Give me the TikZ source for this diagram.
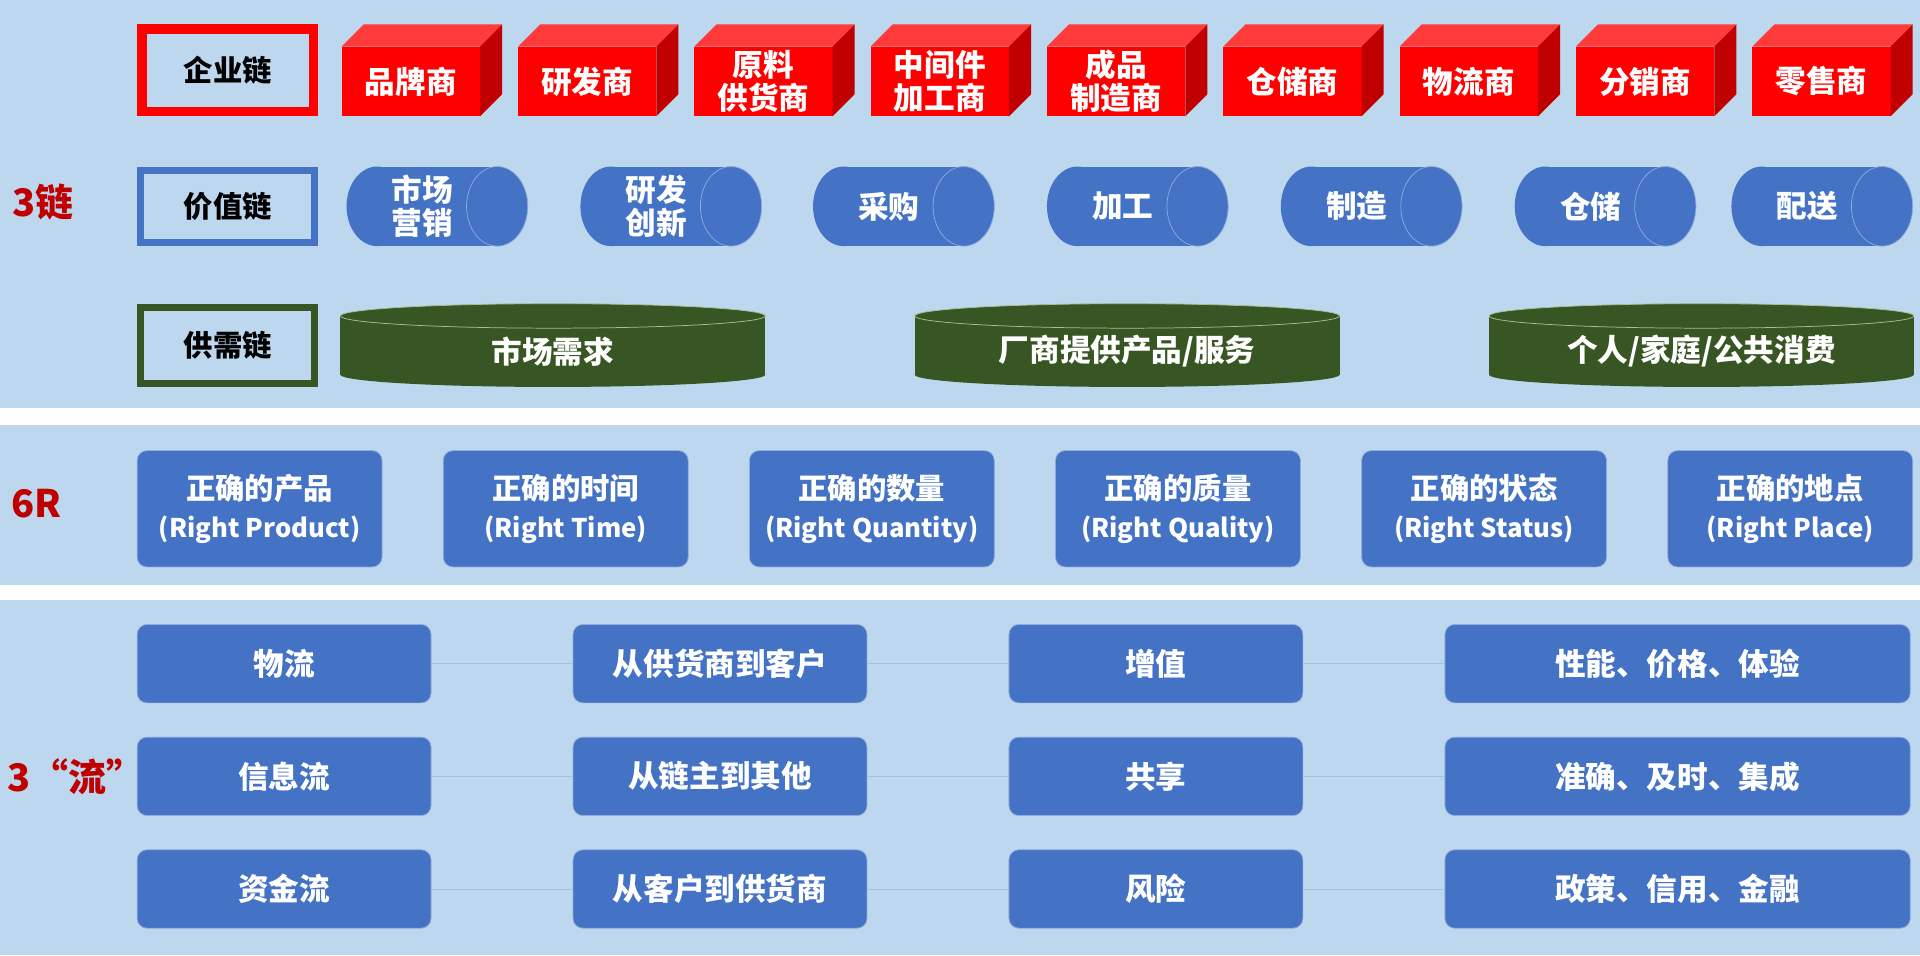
\documentclass[tikz,border=0pt]{standalone}
\usepackage{fontspec}
\setmainfont{Noto Sans CJK SC}
\definecolor{bg}{HTML}{BDD7EE}
\definecolor{bl}{HTML}{4472C4}
\definecolor{blE}{HTML}{8FAADC}
\definecolor{gr}{HTML}{375623}
\definecolor{grE}{HTML}{A9C08F}
\definecolor{rdT}{HTML}{FF3B3B}
\definecolor{rdS}{HTML}{C00000}
\definecolor{ttl}{HTML}{C00000}
\definecolor{ln}{HTML}{9DC3E6}
\tikzset{
 txt/.style={text=white,font=\bfseries\fontsize{25}{27}\selectfont,align=center,inner sep=0pt},
 lbl/.style={text=black,font=\bfseries\fontsize{24}{26}\selectfont,inner sep=0pt},
 ttlx/.style={text=ttl,font=\bfseries\fontsize{31}{34}\selectfont,inner sep=0pt},
 rbox/.style={fill=bl,draw=blE,line width=0.6pt,rounded corners=8pt,text=white,align=center,font=\bfseries\fontsize{24}{31}\selectfont},
 fbox/.style={fill=bl,draw=blE,line width=0.6pt,rounded corners=8pt,minimum width=240pt,minimum height=64pt,text=white,font=\bfseries\fontsize{25}{27}\selectfont},
 conn/.style={draw=ln,line width=0.6pt}
}
\newcommand{\cube}[3]{% x, name, text
 \fill[red] (#1,38) rectangle (#1+113,95);
 \fill[rdT] (#1,38) -- (#1+18,20) -- (#1+131,20) -- (#1+113,38) -- cycle;
 \fill[rdS] (#1+113,38) -- (#1+131,20) -- (#1+131,77) -- (#1+113,95) -- cycle;
 \node[txt] (#2) at (#1+56.5,66.5) {#3};}
\newcommand{\hcyl}[3]{% x1, name, text
 \fill[bl] (#1+25,136) rectangle (#1+123,201);
 \fill[bl] (#1+25,168.5) ellipse[x radius=25,y radius=32.5];
 \fill[bl] (#1+123,168.5) ellipse[x radius=25,y radius=32.5];
 \draw[blE,line width=0.6pt] (#1+123,168.5) ellipse[x radius=25,y radius=32.5];
 \node[txt] (#2) at (#1+62,168.5) {#3};}
\newcommand{\vcyl}[3]{% x1, name, text
 \fill[gr] (#1,258) rectangle (#1+347,306);
 \fill[gr] (#1+173.5,306) ellipse[x radius=173.5,y radius=10];
 \fill[gr] (#1+173.5,258) ellipse[x radius=173.5,y radius=10];
 \draw[grE,line width=0.6pt] (#1+173.5,258) ellipse[x radius=173.5,y radius=10];
 \node[txt] (#2) at (#1+173.5,287) {#3};}
\begin{document}
\begin{tikzpicture}[x=1pt,y=-1pt]
\useasboundingbox (0,0) rectangle (1568,780);
\fill[bg] (0,0) rectangle (1568,780);
\fill[white] (0,333) rectangle (1568,347);
\fill[white] (0,478) rectangle (1568,490);
% titles
\node[ttlx] (t1) at (35,165) {3链};
\node[ttlx] (t2) at (30,411) {6R};
\node[ttlx] (t3) at (62,634) {3“流”};
% label boxes
\draw[red,line width=8pt] (116,24) rectangle (256,91);
\node[lbl] (l1) at (186,57) {企业链};
\draw[bl,line width=6pt] (115,139) rectangle (257,198);
\node[lbl] (l2) at (186,168.5) {价值链};
\draw[gr,line width=6pt] (115,251) rectangle (257,313);
\node[lbl] (l3) at (186,282) {供需链};
% row 1
\cube{279}{c1}{品牌商}
\cube{423}{c2}{研发商}
\cube{567}{c3}{原料\\供货商}
\cube{711}{c4}{中间件\\加工商}
\cube{855}{c5}{成品\\制造商}
\cube{999}{c6}{仓储商}
\cube{1143}{c7}{物流商}
\cube{1287}{c8}{分销商}
\cube{1431}{c9}{零售商}
% row 2
\hcyl{283}{v1}{市场\\营销}
\hcyl{474}{v2}{研发\\创新}
\hcyl{664}{v3}{采购}
\hcyl{855}{v4}{加工}
\hcyl{1046}{v5}{制造}
\hcyl{1237}{v6}{仓储}
\hcyl{1414}{v7}{配送}
% row 3
\vcyl{278}{s1}{市场需求}
\vcyl{747}{s2}{厂商提供产品/服务}
\vcyl{1216}{s3}{个人/家庭/公共消费}
% 6R
\foreach \i/\a/\b in {0/正确的产品/(Right Product),1/正确的时间/(Right Time),2/正确的数量/(Right Quantity),3/正确的质量/(Right Quality),4/正确的状态/(Right Status),5/正确的地点/(Right Place)}{
 \node[rbox,minimum width=200pt,minimum height=95pt] (r\i) at (212+250*\i,415.5) {\a\\[0pt]{\fontsize{21}{25}\selectfont\b}};
}
% flows
\foreach \r/\y/\a/\b/\c/\d in {1/542/物流/从供货商到客户/增值/性能、价格、体验,2/634/信息流/从链主到其他/共享/准确、及时、集成,3/726/资金流/从客户到供货商/风险/政策、信用、金融}{
 \node[fbox] (f\r a) at (232,\y) {\a};
 \node[fbox] (f\r b) at (588,\y) {\b};
 \node[fbox] (f\r c) at (944,\y) {\c};
 \node[fbox,minimum width=380pt] (f\r d) at (1370,\y) {\d};
 \draw[conn] (f\r a.east) -- (f\r b.west);
 \draw[conn] (f\r b.east) -- (f\r c.west);
 \draw[conn] (f\r c.east) -- (f\r d.west);
}
\end{tikzpicture}
\end{document}
